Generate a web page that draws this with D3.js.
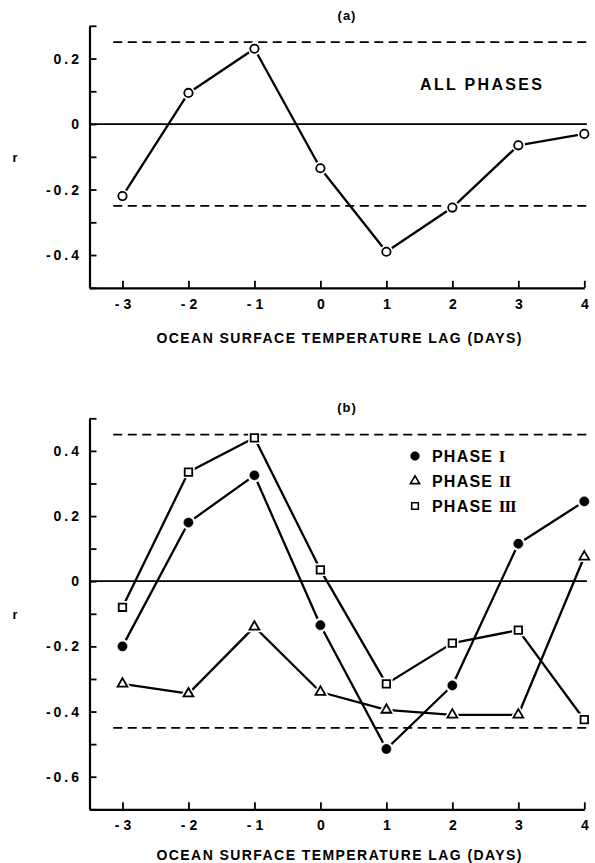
<!DOCTYPE html>
<html><head><meta charset="utf-8">
<script src="https://cdn.jsdelivr.net/npm/d3@7"></script>
<style>
body{margin:0;background:#fff}
svg text{font-family:"Liberation Sans",Arial,sans-serif;font-weight:bold;fill:#000}
</style></head><body>
<svg id="c" width="595" height="863"></svg>
<script>
// ---- data ----
const lags = [-3, -2, -1, 0, 1, 2, 3, 4];
const allPhases = [-0.22, 0.095, 0.23, -0.135, -0.39, -0.255, -0.065, -0.03];
const phase1 = [-0.20, 0.18, 0.325, -0.135, -0.515, -0.32, 0.115, 0.245];
const phase2 = [-0.315, -0.345, -0.14, -0.34, -0.395, -0.41, -0.41, 0.075];
const phase3 = [-0.08, 0.335, 0.44, 0.035, -0.315, -0.19, -0.15, -0.425];
const sigA = 0.25;
const sigB = 0.45;
const yLabelsA = [0.2, 0, -0.2, -0.4];
const yLabelsB = [0.4, 0.2, 0, -0.2, -0.4, -0.6];
const xTickLabels = ["-3", "-2", "-1", "0", "1", "2", "3", "4"];
const xTitle = "OCEAN SURFACE TEMPERATURE LAG (DAYS)";

const svg = d3.select("#c");
const ink = "#000";

function panel(cfg) {
  const x = d3.scaleLinear().domain([-3.5, 4]).range([89.5, 584.3]);
  const y = d3.scaleLinear().domain(cfg.yDomain).range(cfg.yRange);
  const g = svg.append("g");
  const ticks = d3.range(Math.round(cfg.yDomain[0]*10), Math.round(cfg.yDomain[1]*10)+1).map(d => d/10);
  const fmt = v => {
    const hit = cfg.yLabels.find(l => Math.abs(l - v) < 1e-6);
    if (hit === undefined) return "";
    return hit === 0 ? "0" : String(hit);
  };
  // y axis
  const ya = g.append("g").attr("transform", `translate(${x(-3.5)},0)`)
    .call(d3.axisLeft(y).tickValues(ticks).tickFormat(fmt).tickSizeInner(-7).tickSizeOuter(0).tickPadding(10));
  ya.select(".domain").attr("stroke", ink).attr("stroke-width", 2.2);
  ya.selectAll(".tick line").attr("stroke", ink).attr("stroke-width", 1.8);
  ya.selectAll(".tick text").attr("x", -7.5).style("font-size", "14px").style("letter-spacing", "3px");
  // x axis
  const xa = g.append("g").attr("transform", `translate(0,${y(cfg.yDomain[0])})`)
    .call(d3.axisBottom(x).tickValues(lags).tickFormat((d, i) => xTickLabels[i]).tickSizeInner(-7).tickSizeOuter(0).tickPadding(11));
  xa.select(".domain").attr("stroke", ink).attr("stroke-width", 2.2);
  xa.selectAll(".tick line").attr("stroke", ink).attr("stroke-width", 1.8);
  xa.selectAll(".tick text").attr("dx", 2).style("font-size", "14px").style("letter-spacing", "4px");
  // zero line
  g.append("line").attr("x1", x(-3.5)).attr("x2", x(4.04)).attr("y1", y(0)).attr("y2", y(0))
    .attr("stroke", ink).attr("stroke-width", 1.8);
  // significance dashed lines
  [cfg.sig, -cfg.sig].forEach(s => {
    g.append("line").attr("x1", x(-3.14)).attr("x2", x(4.04)).attr("y1", y(s)).attr("y2", y(s))
      .attr("stroke", ink).attr("stroke-width", 1.8).attr("stroke-dasharray", "9,5.5");
  });
  // title
  g.append("text").attr("x", 347).attr("y", cfg.titleY).attr("text-anchor", "middle")
    .style("font-size", "13px").style("letter-spacing", "1px").text(cfg.title);
  // r label
  g.append("text").attr("x", 15).attr("y", cfg.rY).attr("text-anchor", "middle")
    .style("font-size", "13px").text("r");
  // x title
  g.append("text").attr("x", 339).attr("y", cfg.xTitleY).attr("text-anchor", "middle")
    .attr("textLength", 365).attr("lengthAdjust", "spacing")
    .style("font-size", "14px").text(xTitle);
  return {g, x, y};
}

function series(p, vals, shape) {
  const line = d3.line().x((d, i) => p.x(lags[i])).y(d => p.y(d));
  p.g.append("path").datum(vals).attr("d", line).attr("fill", "none")
    .attr("stroke", ink).attr("stroke-width", 2.3).attr("stroke-linejoin", "round");
  const sym = {
    openCircle: d3.symbol(d3.symbolCircle, 55),
    dot: d3.symbol(d3.symbolCircle, 68),
    tri: d3.symbol(d3.symbolTriangle, 42),
    square: d3.symbol(d3.symbolSquare, 56)
  }[shape];
  const pts = p.g.append("g").selectAll("g").data(vals).join("g")
    .attr("transform", (d, i) => `translate(${p.x(lags[i])},${p.y(d)})`);
  pts.append("path").attr("d", sym).attr("fill", "#fff").attr("stroke", "#fff").attr("stroke-width", 5);
  pts.append("path").attr("d", sym)
    .attr("fill", shape === "dot" ? ink : "#fff")
    .attr("stroke", ink).attr("stroke-width", shape === "dot" ? 0.5 : 1.8);
}

// panel (a)
const pa = panel({yDomain: [-0.5, 0.3], yRange: [287.8, 25.8], yLabels: yLabelsA, sig: sigA,
  title: "(a)", titleY: 20, rY: 162, xTitleY: 343});
series(pa, allPhases, "openCircle");
pa.g.append("text").attr("x", 420).attr("y", 90).attr("textLength", 122).attr("lengthAdjust", "spacing")
  .style("font-size", "16px").text("ALL PHASES");

// panel (b)
const pb = panel({yDomain: [-0.7, 0.5], yRange: [809.3, 418.3], yLabels: yLabelsB, sig: sigB,
  title: "(b)", titleY: 412, rY: 619, xTitleY: 860});
series(pb, phase2, "tri");
series(pb, phase3, "square");
series(pb, phase1, "dot");

// legend
const legendItems = [
  {shape: "dot", label: "PHASE ", num: "I"},
  {shape: "tri", label: "PHASE ", num: "II"},
  {shape: "square", label: "PHASE ", num: "III"}
];
const lg = svg.append("g").attr("transform", "translate(415,456)");
legendItems.forEach((it, i) => {
  const sym = {dot: d3.symbol(d3.symbolCircle, 60), tri: d3.symbol(d3.symbolTriangle, 36), square: d3.symbol(d3.symbolSquare, 44)}[it.shape];
  lg.append("path").attr("transform", `translate(0,${i*25})`).attr("d", sym)
    .attr("fill", it.shape === "dot" ? ink : "#fff").attr("stroke", ink).attr("stroke-width", it.shape === "dot" ? 0.5 : 1.6);
  const t = lg.append("text").attr("x", 17).attr("y", i*25 + 6).style("font-size", "16px").style("letter-spacing", "1.2px");
  t.append("tspan").text(it.label);
  t.append("tspan").style("font-family", "'Liberation Serif','DejaVu Serif',serif").style("font-size", "17px")
    .style("letter-spacing", "-1px").text(it.num);
});
</script>
</body></html>
